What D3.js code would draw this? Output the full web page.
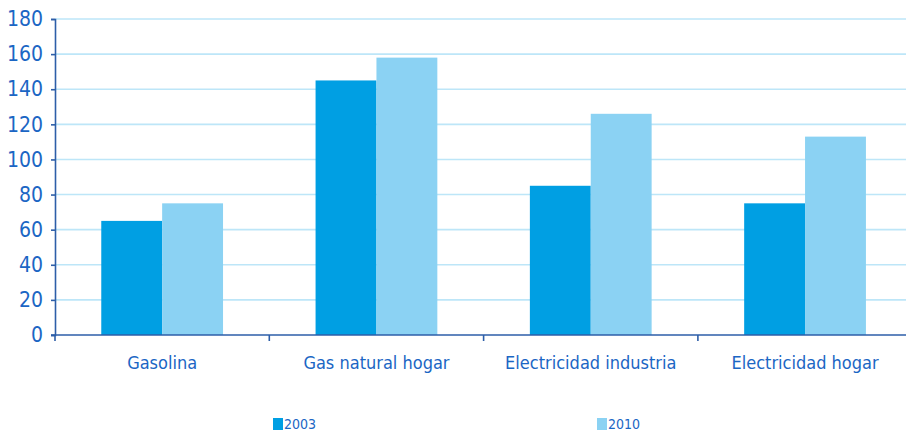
<!DOCTYPE html>
<html>
<head>
<meta charset="utf-8">
<script src="https://cdn.jsdelivr.net/npm/d3@7"></script>
<style>
  body { margin: 0; background: #fff; }
  svg text { font-family: "Liberation Sans Narrow", "DejaVu Sans Condensed", sans-serif; fill: #1b66c4; }
</style>
</head>
<body>
<svg id="chart" width="906" height="433"></svg>
<script>
// data
const categories = ['Gasolina', 'Gas natural hogar', 'Electricidad industria', 'Electricidad hogar'];
const seriesNames = ['2003', '2010'];
const values2003 = [65, 145, 85, 75];
const values2010 = [75, 158, 126, 113];
const yTicks = [0, 20, 40, 60, 80, 100, 120, 140, 160, 180];

// colors
const colors = { '2003': '#009fe3', '2010': '#8bd2f3' };
const colorGrid = '#bde6f8';
const colorAxis = '#2d5ea8';

const svg = d3.select('#chart');
const margin = { left: 55 };
const width = 912;

const x = d3.scaleBand()
  .domain(categories)
  .range([margin.left, margin.left + 4 * 214.3]);

const xInner = d3.scaleBand()
  .domain(seriesNames)
  .range([0, x.bandwidth()])
  .paddingOuter(0.76)
  .paddingInner(0);

const y = d3.scaleLinear()
  .domain([0, 180])
  .range([335, 19]);

// grid
svg.append('g')
  .selectAll('line')
  .data(yTicks.filter(d => d > 0))
  .join('line')
  .attr('x1', margin.left)
  .attr('x2', width)
  .attr('y1', d => y(d))
  .attr('y2', d => y(d))
  .attr('stroke', colorGrid)
  .attr('stroke-width', 1.6);

// bars
const rows = categories.map((c, i) => ({ cat: c, vals: [
  { key: '2003', v: values2003[i] },
  { key: '2010', v: values2010[i] }
] }));

svg.append('g')
  .selectAll('g')
  .data(rows)
  .join('g')
  .attr('transform', d => `translate(${x(d.cat)},0)`)
  .selectAll('rect')
  .data(d => d.vals)
  .join('rect')
  .attr('x', d => xInner(d.key))
  .attr('width', xInner.bandwidth())
  .attr('y', d => y(d.v))
  .attr('height', d => y(0) - y(d.v))
  .attr('fill', d => colors[d.key]);

// y axis
const yAxis = svg.append('g')
  .attr('transform', `translate(${margin.left},0)`)
  .call(d3.axisLeft(y).tickValues(yTicks).tickSize(4).tickPadding(8));
yAxis.select('.domain').attr('stroke', colorAxis).attr('stroke-width', 1.6);
yAxis.selectAll('.tick line').attr('stroke', colorAxis).attr('stroke-width', 1.6);
yAxis.selectAll('.tick text').style('font-size', '21px');

// x axis
const xAxis = svg.append('g')
  .attr('transform', `translate(0,${y(0)})`);
xAxis.append('line')
  .attr('x1', margin.left - 4)
  .attr('x2', width)
  .attr('stroke', colorAxis)
  .attr('stroke-width', 1.6);
xAxis.selectAll('.sep')
  .data(categories)
  .join('line')
  .attr('class', 'sep')
  .attr('x1', d => x(d))
  .attr('x2', d => x(d))
  .attr('y1', 0)
  .attr('y2', 6)
  .attr('stroke', colorAxis)
  .attr('stroke-width', 1.6);
xAxis.selectAll('text')
  .data(categories)
  .join('text')
  .attr('x', d => x(d) + x.bandwidth() / 2)
  .attr('y', 34)
  .attr('text-anchor', 'middle')
  .style('font-size', '18px')
  .text(d => d);

// legend
const legendX = [273, 597];
const legend = svg.append('g')
  .selectAll('g')
  .data(seriesNames)
  .join('g')
  .attr('transform', (d, i) => `translate(${legendX[i]},418)`);
legend.append('rect')
  .attr('width', 10)
  .attr('height', 12)
  .attr('fill', d => colors[d]);
legend.append('text')
  .attr('x', 11)
  .attr('y', 11)
  .style('font-size', '14px')
  .text(d => d);
</script>
</body>
</html>
